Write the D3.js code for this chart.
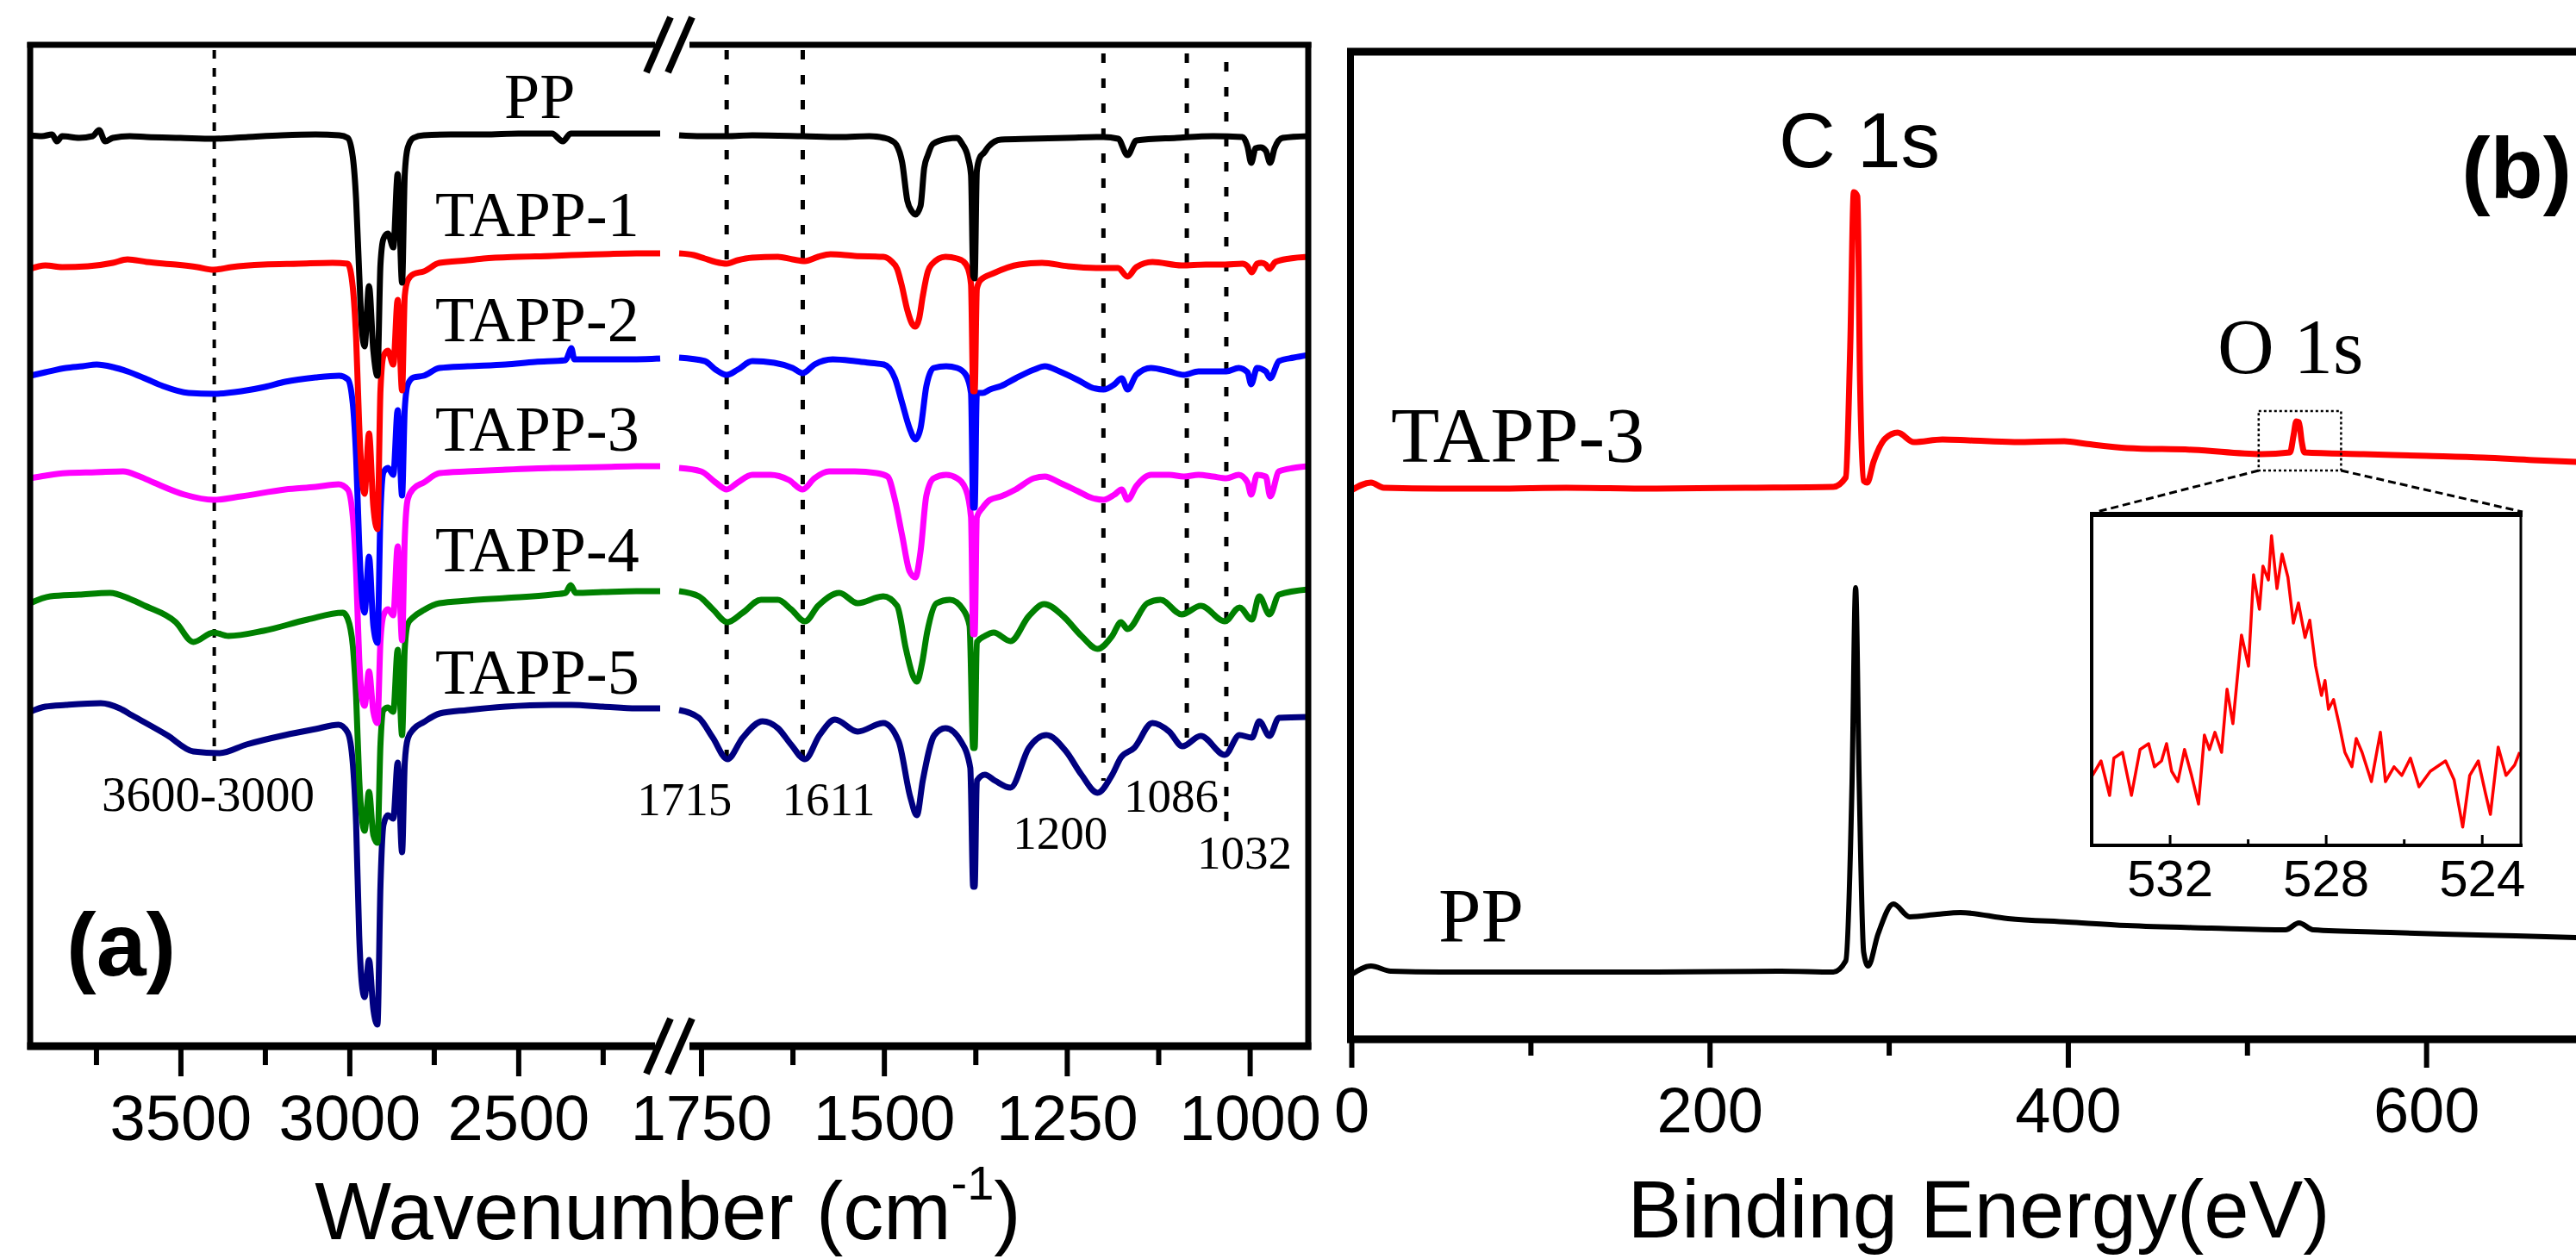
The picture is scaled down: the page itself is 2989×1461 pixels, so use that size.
<!DOCTYPE html>
<html>
<head>
<meta charset="utf-8">
<script src="https://cdn.jsdelivr.net/npm/d3@7"></script>
<style>
  html, body { margin: 0; padding: 0; background: #fff; }
  svg { display: block; }
</style>
</head>
<body>
<svg id="fig" width="2989" height="1461"></svg>
<script>
// ================= DATA =================
// (a) FTIR spectra, two wavenumber windows with an axis break.
// Each point: [wavenumber cm-1, transmittance (a.u., stacked)]
const ftirNames  = ["PP", "TAPP-1", "TAPP-2", "TAPP-3", "TAPP-4", "TAPP-5"];
const ftirColors = ["#000000", "#ff0000", "#0000ff", "#ff00ff", "#008000", "#000080"];
const hiDomain = [3945, 2080];
const loDomain = [1780, 920];
const hiMajorTicks = [3500, 3000, 2500];
const hiMinorTicks = [3750, 3250, 2750, 2250];
const loMajorTicks = [1750, 1500, 1250, 1000];
const loMinorTicks = [1625, 1375, 1125];

const ppHigh = [[3945,105.6],[3910,105.5],[3880,105.7],[3866,104.9],[3850,105.5],[3800,105.3],[3760,105.5],[3741,106.2],[3723,104.9],[3700,105.3],[3650,105.5],[3600,105.4],[3500,105.3],[3400,105.2],[3300,105.4],[3200,105.6],[3100,105.7],[3030,105.6],[3005,105.3],[2990,103.1],[2980,98.1],[2971,89.6],[2963,83.1],[2955,81.1],[2942,88.1],[2929,80.6],[2917,77.7],[2908,90.6],[2899,93.6],[2886,94.2],[2870,92.6],[2857,101.1],[2844,88.5],[2836,101.1],[2827,104.2],[2810,105.3],[2780,105.6],[2700,105.7],[2600,105.7],[2500,105.8],[2400,105.8],[2368,104.9],[2345,105.8],[2250,105.8],[2150,105.8],[2080,105.8]];
const ppLow = [[1780,105.6],[1750,105.5],[1715,105.5],[1680,105.6],[1611,105.5],[1560,105.4],[1520,105.5],[1500,105.3],[1490,105.0],[1483,104.5],[1475,102.4],[1468,98.0],[1462,96.8],[1457,96.4],[1450,97.4],[1445,101.8],[1440,103.3],[1433,104.6],[1413,105.2],[1400,105.3],[1393,104.6],[1385,103.0],[1381,101.0],[1378,89.3],[1376,89.0],[1373,101.5],[1369,103.0],[1363,103.6],[1357,104.3],[1340,105.1],[1300,105.2],[1250,105.3],[1200,105.4],[1180,105.2],[1167,103.3],[1155,105.0],[1100,105.3],[1050,105.5],[1010,105.4],[1003,104.3],[998,102.4],[992,104.1],[985,104.2],[978,103.8],[972,102.4],[966,104.1],[955,105.3],[920,105.5]];

const tapp1High = [[3945,90.1],[3900,90.5],[3850,90.3],[3774,90.4],[3700,90.8],[3657,91.2],[3600,90.9],[3514,90.6],[3450,90.3],[3402,90.0],[3350,90.3],[3254,90.6],[3150,90.7],[3050,90.8],[3005,90.7],[2990,88.0],[2980,82.0],[2971,72.0],[2963,66.0],[2955,64.0],[2942,71.0],[2929,62.5],[2917,59.9],[2908,76.0],[2899,80.0],[2886,80.6],[2870,79.0],[2857,86.5],[2844,76.0],[2836,87.0],[2827,88.8],[2810,89.5],[2780,89.8],[2733,90.8],[2650,91.1],[2603,91.3],[2500,91.5],[2400,91.6],[2343,91.7],[2250,91.8],[2150,91.9],[2080,91.9]];
const tapp1Low = [[1780,91.9],[1760,91.7],[1745,91.3],[1730,90.9],[1715,90.7],[1700,91.1],[1680,91.4],[1645,91.5],[1625,91.2],[1608,91.0],[1590,91.5],[1573,91.8],[1540,91.6],[1501,91.5],[1490,91.0],[1482,90.1],[1476,88.3],[1468,85.3],[1462,83.8],[1457,83.4],[1452,84.3],[1447,86.9],[1440,89.8],[1435,90.6],[1416,91.5],[1400,91.3],[1392,91.0],[1385,90.1],[1381,88.3],[1378,75.9],[1376,75.9],[1373,87.8],[1368,88.8],[1350,89.6],[1315,90.6],[1284,90.8],[1248,90.4],[1208,90.2],[1180,90.2],[1167,89.2],[1155,90.3],[1133,90.9],[1093,90.5],[1060,90.6],[1034,90.6],[1010,90.7],[1003,90.4],[997,89.7],[990,90.7],[984,90.8],[978,90.6],[973,90.1],[965,90.9],[945,91.3],[920,91.5]];

const tapp2High = [[3945,77.7],[3900,78.1],[3839,78.6],[3790,78.8],[3748,79.0],[3700,78.7],[3657,78.2],[3600,77.3],[3552,76.5],[3476,75.7],[3402,75.6],[3320,75.9],[3250,76.4],[3190,77.0],[3100,77.5],[3030,77.7],[3005,77.3],[2990,74.5],[2980,68.2],[2971,58.2],[2963,52.2],[2955,50.2],[2942,56.7],[2929,48.7],[2917,46.7],[2908,61.7],[2899,66.5],[2886,67.0],[2870,66.2],[2857,73.7],[2844,63.8],[2836,73.9],[2827,76.7],[2810,77.5],[2780,77.7],[2733,78.6],[2650,78.8],[2538,79.0],[2450,79.3],[2360,79.5],[2350,80.3],[2343,80.9],[2334,79.6],[2250,79.6],[2150,79.6],[2080,79.7]];
const tapp2Low = [[1780,79.8],[1745,79.4],[1730,78.4],[1715,77.8],[1700,78.4],[1680,79.4],[1650,79.2],[1625,78.6],[1611,78.0],[1595,79.0],[1570,79.6],[1540,79.4],[1520,79.2],[1500,79.0],[1485,77.4],[1475,74.5],[1465,71.6],[1457,70.3],[1450,71.6],[1442,76.5],[1432,78.6],[1415,78.8],[1400,78.6],[1388,77.8],[1381,75.7],[1378,62.4],[1376,62.4],[1373,75.7],[1365,75.7],[1355,76.1],[1340,76.5],[1320,77.4],[1295,78.4],[1280,78.8],[1260,78.2],[1235,77.2],[1215,76.3],[1200,76.1],[1185,76.7],[1175,77.4],[1167,76.1],[1155,77.8],[1135,78.6],[1110,78.2],[1090,77.8],[1070,78.2],[1050,78.2],[1032,78.2],[1015,78.6],[1003,78.1],[998,76.7],[990,78.6],[978,78.2],[972,77.4],[960,79.4],[940,79.8],[920,80.1]];

const tapp3High = [[3945,65.8],[3900,66.1],[3839,66.4],[3750,66.5],[3670,66.6],[3620,66.0],[3579,65.3],[3488,63.9],[3402,63.3],[3320,63.7],[3190,64.5],[3100,64.8],[3032,65.1],[3005,64.5],[2990,61.4],[2980,54.9],[2971,44.9],[2963,40.4],[2955,39.4],[2942,43.4],[2929,38.7],[2917,37.4],[2908,46.9],[2899,49.9],[2886,50.6],[2870,49.9],[2857,57.9],[2844,47.0],[2836,58.9],[2827,63.4],[2810,64.6],[2780,65.3],[2733,66.4],[2650,66.6],[2538,66.8],[2400,67.0],[2250,67.1],[2150,67.2],[2080,67.2]];
const tapp3Low = [[1780,67.0],[1750,66.6],[1730,65.3],[1715,64.5],[1700,65.3],[1680,66.2],[1655,66.2],[1630,65.6],[1611,64.5],[1595,65.8],[1575,66.6],[1540,66.6],[1510,66.4],[1495,66.0],[1485,63.3],[1475,59.1],[1465,55.0],[1457,54.3],[1450,57.3],[1442,63.8],[1432,65.8],[1415,66.2],[1400,65.8],[1388,64.5],[1381,61.3],[1378,47.7],[1376,47.7],[1373,61.3],[1365,62.4],[1355,63.3],[1340,63.7],[1320,64.5],[1295,65.8],[1280,66.0],[1260,65.3],[1235,64.3],[1215,63.5],[1200,63.3],[1185,63.9],[1175,64.5],[1167,63.3],[1155,64.9],[1135,66.2],[1110,66.2],[1090,66.0],[1070,66.2],[1050,66.0],[1032,65.8],[1015,66.2],[1003,65.3],[998,63.9],[990,66.2],[978,66.0],[972,63.7],[960,66.6],[940,67.0],[920,67.2]];

const tapp4High = [[3945,51.3],[3885,52.1],[3800,52.3],[3709,52.5],[3650,51.8],[3605,51.0],[3514,49.1],[3462,46.8],[3402,47.9],[3358,47.5],[3254,48.1],[3124,49.4],[3019,50.2],[3005,49.5],[2990,46.4],[2980,40.4],[2971,30.9],[2963,26.4],[2955,24.9],[2942,29.4],[2929,24.4],[2917,23.5],[2908,34.9],[2899,38.9],[2886,39.2],[2870,38.7],[2857,45.9],[2844,36.0],[2836,46.1],[2827,48.9],[2810,49.7],[2780,50.5],[2733,51.3],[2650,51.6],[2538,51.9],[2400,52.3],[2360,52.5],[2345,53.4],[2330,52.5],[2250,52.6],[2150,52.7],[2080,52.7]];
const tapp4Low = [[1780,52.7],[1753,52.1],[1734,50.6],[1714,49.1],[1693,50.2],[1668,51.7],[1645,51.7],[1627,50.6],[1608,49.2],[1590,51.0],[1561,52.5],[1536,51.3],[1501,52.1],[1482,51.0],[1470,46.0],[1460,42.8],[1455,42.2],[1448,44.3],[1441,47.9],[1428,51.3],[1410,51.7],[1392,50.6],[1383,48.7],[1378,34.5],[1376,34.5],[1373,46.8],[1362,47.5],[1350,47.9],[1327,46.9],[1302,49.8],[1281,51.2],[1255,49.8],[1230,47.5],[1208,46.0],[1188,47.5],[1176,49.1],[1167,48.3],[1140,51.3],[1122,51.7],[1093,50.0],[1067,51.0],[1034,49.2],[1014,50.8],[997,49.4],[987,52.1],[973,50.0],[960,52.3],[920,52.9]];

const tapp5High = [[3945,38.7],[3900,39.3],[3839,39.5],[3736,39.7],[3680,39.1],[3644,38.3],[3540,36.0],[3462,34.1],[3384,33.9],[3305,34.9],[3190,36.0],[3100,36.7],[3032,37.2],[3005,36.3],[2990,32.8],[2980,25.6],[2971,12.8],[2963,7.1],[2955,5.6],[2942,9.9],[2929,4.2],[2917,2.4],[2908,18.5],[2899,25.6],[2886,26.7],[2870,26.3],[2857,32.8],[2844,22.4],[2836,32.8],[2827,35.6],[2810,36.7],[2780,37.5],[2733,38.5],[2650,38.9],[2538,39.3],[2400,39.5],[2343,39.5],[2250,39.3],[2150,39.1],[2080,39.1]];
const tapp5Low = [[1780,38.9],[1753,38.0],[1734,35.7],[1714,33.2],[1693,35.7],[1666,37.6],[1645,36.8],[1627,34.9],[1608,33.2],[1588,36.0],[1567,37.8],[1536,36.4],[1501,37.4],[1480,35.3],[1464,28.8],[1455,26.7],[1447,30.7],[1431,36.0],[1416,36.8],[1395,35.3],[1382,32.2],[1378,18.4],[1376,18.4],[1373,30.7],[1362,31.4],[1348,30.7],[1327,29.9],[1302,34.5],[1278,36.0],[1251,34.1],[1230,31.4],[1208,29.3],[1188,31.4],[1176,33.4],[1158,34.5],[1133,37.4],[1110,36.4],[1092,34.7],[1067,35.9],[1034,33.7],[1014,36.0],[997,35.7],[987,37.6],[973,35.9],[960,38.0],[920,38.1]];

// marked absorption bands: centre wavenumber and vertical extent (a.u.)
const bandCenters = [3400, 1715, 1611, 1200, 1086, 1032];
const bandTop     = [115.5, 115.5, 115.5, 115.1, 115.1, 114.1];
const bandBottom  = [33.0, 33.3, 33.3, 30.7, 34.5, 24.8];
const bandLabels  = ["3600-3000", "1715", "1611", "1200", "1086", "1032"];

// (b) XPS survey spectra: [binding energy eV, intensity a.u.]
const xpsDomain = [0, 700];
const xpsMajorTicks = [0, 200, 400, 600];
const xpsMinorTicks = [100, 300, 500];
const xpsTapp3 = [[0,63.7],[11,64.6],[18,64.0],[50,63.9],[80,63.9],[120,64.0],[168,63.9],[220,64.0],[269,64.1],[276,65.2],[278.5,80.4],[280.5,98.3],[282.5,97.8],[284,76.0],[286,64.8],[288,64.6],[291.5,67.0],[298,69.7],[305,70.4],[314,69.3],[330,69.6],[344.5,69.5],[370,69.3],[398,69.4],[410,69.1],[433,68.6],[470,68.4],[508,67.9],[524,68.1],[526,70.1],[527.5,71.7],[529,71.6],[530.5,69.4],[532,68.1],[565,67.9],[600,67.7],[632,67.5],[660,67.2],[684,67.0],[700,66.9]];
const xpsPP = [[0,7.5],[11,8.5],[22,7.9],[50,7.8],[80,7.8],[168,7.8],[240,7.9],[269,7.8],[276,9.1],[279.5,29.7],[281.5,52.4],[283.5,29.7],[286,10.1],[288.5,8.5],[294,12.2],[302.6,15.7],[311.7,14.2],[327,14.5],[340,14.7],[366.6,14.0],[400,13.6],[433,13.2],[480,12.9],[521.5,12.7],[529,13.5],[537,12.7],[580,12.4],[609.6,12.2],[650,12.0],[684,11.8],[700,11.7]];
// enlarged O 1s region of TAPP-3
const insetDomain = [534, 523];
const insetTicks = [532, 528, 524];
const insetMinorTicks = [530, 526];
const insetO1s = [[533.98,20.3],[533.76,24.5],[533.54,14.5],[533.43,25.3],[533.21,27.0],[532.98,14.5],[532.76,27.8],[532.54,29.5],[532.39,22.8],[532.21,24.5],[532.08,29.5],[531.95,21.5],[531.79,18.5],[531.62,27.8],[531.44,20.3],[531.26,12.0],[531.11,32.0],[530.98,27.8],[530.84,32.8],[530.67,27.0],[530.53,45.3],[530.38,35.3],[530.16,61.0],[529.98,52.0],[529.85,78.5],[529.70,68.5],[529.61,81.0],[529.47,77.0],[529.39,89.8],[529.25,74.5],[529.12,84.5],[528.97,77.8],[528.83,64.5],[528.70,70.3],[528.53,60.3],[528.41,65.3],[528.26,52.0],[528.11,43.5],[528.02,47.8],[527.93,39.5],[527.80,42.3],[527.66,35.3],[527.51,27.0],[527.33,22.8],[527.22,31.0],[527.07,27.0],[526.83,18.5],[526.60,32.8],[526.47,18.5],[526.25,22.8],[526.05,20.3],[525.83,25.3],[525.61,17.0],[525.32,21.5],[524.93,24.5],[524.71,19.0],[524.49,5.3],[524.31,20.3],[524.09,24.5],[523.91,15.3],[523.78,9.0],[523.58,28.5],[523.38,20.3],[523.16,23.3],[523.03,27.0]];
// survey region shown enlarged: [eV from, eV to], [intensity low, high]
const zoomBoxEV = [506.5, 552.5];
const zoomBoxI  = [66.0, 72.9];

// ================= DRAWING =================
const SANS  = "'Liberation Sans', Arial, Helvetica, sans-serif";
const SERIF = "'Liberation Serif', 'Times New Roman', Times, serif";
const svg = d3.select("#fig");

// ---------- panel (a) ----------
const A = { left: 35, right: 1518, top: 52, bottom: 1214, hiEnd: 766, loStart: 788 };
const xHi = d3.scaleLinear().domain(hiDomain).range([A.left, A.hiEnd]);
const xLo = d3.scaleLinear().domain(loDomain).range([A.loStart, A.right]);
const yA  = d3.scaleLinear().domain([0, 116.1]).range([1213, 52]);

const gA = svg.append("g");

// band guide lines
bandCenters.forEach((w, i) => {
  const x = w > 2000 ? xHi(w) : xLo(w);
  gA.append("line")
    .attr("x1", x).attr("x2", x)
    .attr("y1", yA(bandTop[i])).attr("y2", yA(bandBottom[i]))
    .attr("stroke", "#000").attr("stroke-width", i === 0 ? 4 : 5)
    .attr("stroke-dasharray", i === 0 ? "10,11" : "11,18");
});

// spectra (TAPP-5 first so PP ends on top)
const highSets = [ppHigh, tapp1High, tapp2High, tapp3High, tapp4High, tapp5High];
const lowSets  = [ppLow, tapp1Low, tapp2Low, tapp3Low, tapp4Low, tapp5Low];
const lineHi = d3.line().x(d => xHi(d[0])).y(d => yA(d[1])).curve(d3.curveMonotoneX);
const lineLo = d3.line().x(d => xLo(d[0])).y(d => yA(d[1])).curve(d3.curveMonotoneX);
for (let i = ftirNames.length - 1; i >= 0; i--) {
  [[highSets[i], lineHi], [lowSets[i], lineLo]].forEach(([data, gen]) => {
    gA.append("path").datum(data)
      .attr("d", gen)
      .attr("fill", "none")
      .attr("stroke", ftirColors[i])
      .attr("stroke-width", 7)
      .attr("stroke-linejoin", "round");
  });
}

// frame
const frame = (g, x1, y1, x2, y2, w) => g.append("line")
  .attr("x1", x1).attr("y1", y1).attr("x2", x2).attr("y2", y2)
  .attr("stroke", "#000").attr("stroke-width", w);
frame(gA, A.left, A.top - 3, A.left, A.bottom + 4, 7);
frame(gA, A.right, A.top - 3, A.right, A.bottom + 4, 7);
frame(gA, A.left - 3.5, A.top, 760, A.top, 7);
frame(gA, 800, A.top, A.right + 3.5, A.top, 7);
frame(gA, A.left - 3.5, A.bottom, 760, A.bottom, 9);
frame(gA, 800, A.bottom, A.right + 3.5, A.bottom, 9);
// axis break marks
[A.top, A.bottom].forEach(yb => {
  [764, 789].forEach(cx => {
    gA.append("line")
      .attr("x1", cx - 14).attr("y1", yb + 32)
      .attr("x2", cx + 14).attr("y2", yb - 32)
      .attr("stroke", "#000").attr("stroke-width", 8);
  });
});

// bottom axes
function styleAxis(g, size, baseline, width) {
  g.select(".domain").remove();
  g.selectAll(".tick line").attr("stroke", "#000").attr("stroke-width", width);
  g.selectAll(".tick text")
    .attr("font-family", SANS).attr("font-size", size).attr("fill", "#000")
    .attr("y", baseline).attr("dy", 0);
}
[[xHi, hiMajorTicks, hiMinorTicks], [xLo, loMajorTicks, loMinorTicks]].forEach(([sc, maj, min]) => {
  const gMaj = gA.append("g").attr("transform", `translate(0,${A.bottom})`)
    .call(d3.axisBottom(sc).tickValues(maj).tickSize(35).tickFormat(d3.format("d")));
  styleAxis(gMaj, 74, 109, 6);
  const gMin = gA.append("g").attr("transform", `translate(0,${A.bottom})`)
    .call(d3.axisBottom(sc).tickValues(min).tickSize(22).tickFormat(""));
  styleAxis(gMin, 74, 109, 6);
});

// axis title
const tA = gA.append("text")
  .attr("x", 775).attr("y", 1438)
  .attr("text-anchor", "middle")
  .attr("font-family", SANS).attr("font-size", 94).attr("fill", "#000");
tA.append("tspan").text("Wavenumber (cm");
tA.append("tspan").attr("dy", -46).attr("font-size", 56).text("-1");
tA.append("tspan").attr("dy", 46).text(")");

// series labels
const ftirLabelX = [585, 505, 505, 505, 505, 505];
const ftirLabelY = [137, 274, 396, 523, 663, 805];
ftirNames.forEach((n, i) => {
  gA.append("text").attr("x", ftirLabelX[i]).attr("y", ftirLabelY[i])
    .attr("font-family", SERIF).attr("font-size", 74).attr("fill", "#000")
    .text(n);
});

// band labels
const bandLabelDx = [-7, -49, 30, -50, -18, 21];
const bandLabelY  = [941, 946, 946, 985, 942, 1008];
bandCenters.forEach((w, i) => {
  const x = w > 2000 ? xHi(w) : xLo(w);
  gA.append("text").attr("x", x + bandLabelDx[i]).attr("y", bandLabelY[i])
    .attr("text-anchor", "middle")
    .attr("font-family", SERIF).attr("font-size", i === 0 ? 57 : 55).attr("fill", "#000")
    .text(bandLabels[i]);
});

gA.append("text").attr("x", 77).attr("y", 1132)
  .attr("font-family", SANS).attr("font-weight", "bold").attr("font-size", 104)
  .attr("fill", "#000").text("(a)");

// ---------- panel (b) ----------
const B = { left: 1567, top: 60, bottom: 1206 };
const xB = d3.scaleLinear().domain(xpsDomain).range([1568, 3023]);
const yB = d3.scaleLinear().domain([0, 114.6]).range([B.bottom, B.top]);
const gB = svg.append("g");

const lineB = d3.line().x(d => xB(d[0])).y(d => yB(d[1])).curve(d3.curveMonotoneX);
gB.append("path").datum(xpsPP).attr("d", lineB)
  .attr("fill", "none").attr("stroke", "#000").attr("stroke-width", 6).attr("stroke-linejoin", "round");
gB.append("path").datum(xpsTapp3).attr("d", lineB)
  .attr("fill", "none").attr("stroke", "#ff0000").attr("stroke-width", 7).attr("stroke-linejoin", "round");

frame(gB, B.left, B.top - 4, B.left, B.bottom + 4, 8);
frame(gB, B.left - 4, B.top, 2989, B.top, 9);
frame(gB, B.left - 4, B.bottom, 2989, B.bottom, 9);

const gBMaj = gB.append("g").attr("transform", `translate(0,${B.bottom})`)
  .call(d3.axisBottom(xB).tickValues(xpsMajorTicks).tickSize(33).tickFormat(d3.format("d")));
styleAxis(gBMaj, 74, 108, 6);
const gBMin = gB.append("g").attr("transform", `translate(0,${B.bottom})`)
  .call(d3.axisBottom(xB).tickValues(xpsMinorTicks).tickSize(19).tickFormat(""));
styleAxis(gBMin, 74, 108, 6);

gB.append("text").attr("x", 2296).attr("y", 1436).attr("text-anchor", "middle")
  .attr("font-family", SANS).attr("font-size", 94).attr("fill", "#000")
  .text("Binding Energy(eV)");

gB.append("text").attr("x", 1614).attr("y", 536)
  .attr("font-family", SERIF).attr("font-size", 92).attr("fill", "#000").text("TAPP-3");
gB.append("text").attr("x", 1669).attr("y", 1092)
  .attr("font-family", SERIF).attr("font-size", 89).attr("fill", "#000").text("PP");
gB.append("text").attr("x", 2064).attr("y", 194)
  .attr("font-family", SANS).attr("font-size", 91).attr("fill", "#000").text("C 1s");
gB.append("text").attr("x", 2573).attr("y", 433)
  .attr("font-family", SERIF).attr("font-size", 91).attr("fill", "#000").text("O 1s");
gB.append("text").attr("x", 2984).attr("y", 230).attr("text-anchor", "end")
  .attr("font-family", SANS).attr("font-weight", "bold").attr("font-size", 100)
  .attr("fill", "#000").text("(b)");

// zoom box around O 1s in the survey
const bx1 = xB(zoomBoxEV[0]), bx2 = xB(zoomBoxEV[1]);
const by1 = yB(zoomBoxI[1]), by2 = yB(zoomBoxI[0]);
gB.append("rect").attr("x", bx1).attr("y", by1)
  .attr("width", bx2 - bx1).attr("height", by2 - by1)
  .attr("fill", "none").attr("stroke", "#000").attr("stroke-width", 2.5)
  .attr("stroke-dasharray", "3,3");

// inset
const I = { left: 2427, right: 2925, top: 597, bottom: 981 };
const xI = d3.scaleLinear().domain(insetDomain).range([I.left, I.right]);
const yI = d3.scaleLinear().domain([0, 96]).range([I.bottom, I.top]);

gB.append("line").attr("x1", bx1).attr("y1", by2).attr("x2", I.left + 6).attr("y2", I.top - 3)
  .attr("stroke", "#000").attr("stroke-width", 3).attr("stroke-dasharray", "9,5");
gB.append("line").attr("x1", bx2).attr("y1", by2).attr("x2", I.right + 2).attr("y2", I.top - 3)
  .attr("stroke", "#000").attr("stroke-width", 3).attr("stroke-dasharray", "9,5");

gB.append("rect").attr("x", I.left).attr("y", I.top)
  .attr("width", I.right - I.left).attr("height", I.bottom - I.top).attr("fill", "#fff");
svg.append("clipPath").attr("id", "insetClip").append("rect")
  .attr("x", I.left).attr("y", I.top).attr("width", I.right - I.left).attr("height", I.bottom - I.top);
gB.append("path").datum(insetO1s)
  .attr("clip-path", "url(#insetClip)")
  .attr("d", d3.line().x(d => xI(d[0])).y(d => yI(d[1])))
  .attr("fill", "none").attr("stroke", "#ff0000").attr("stroke-width", 3.5)
  .attr("stroke-linejoin", "round");

frame(gB, I.left, I.top, I.left, I.bottom + 2, 4);
frame(gB, I.right, I.top, I.right, I.bottom + 2, 3);
frame(gB, I.left - 2, I.bottom, I.right + 2, I.bottom, 4);
frame(gB, I.left - 2, I.top, I.right + 2, I.top, 6);

const gIMaj = gB.append("g").attr("transform", `translate(0,${I.bottom})`)
  .call(d3.axisBottom(xI).tickValues(insetTicks).tickSize(-12).tickFormat(d3.format("d")));
styleAxis(gIMaj, 60, 59, 3);
const gIMin = gB.append("g").attr("transform", `translate(0,${I.bottom})`)
  .call(d3.axisBottom(xI).tickValues(insetMinorTicks).tickSize(-7).tickFormat(""));
styleAxis(gIMin, 60, 59, 3);
</script>
</body>
</html>
